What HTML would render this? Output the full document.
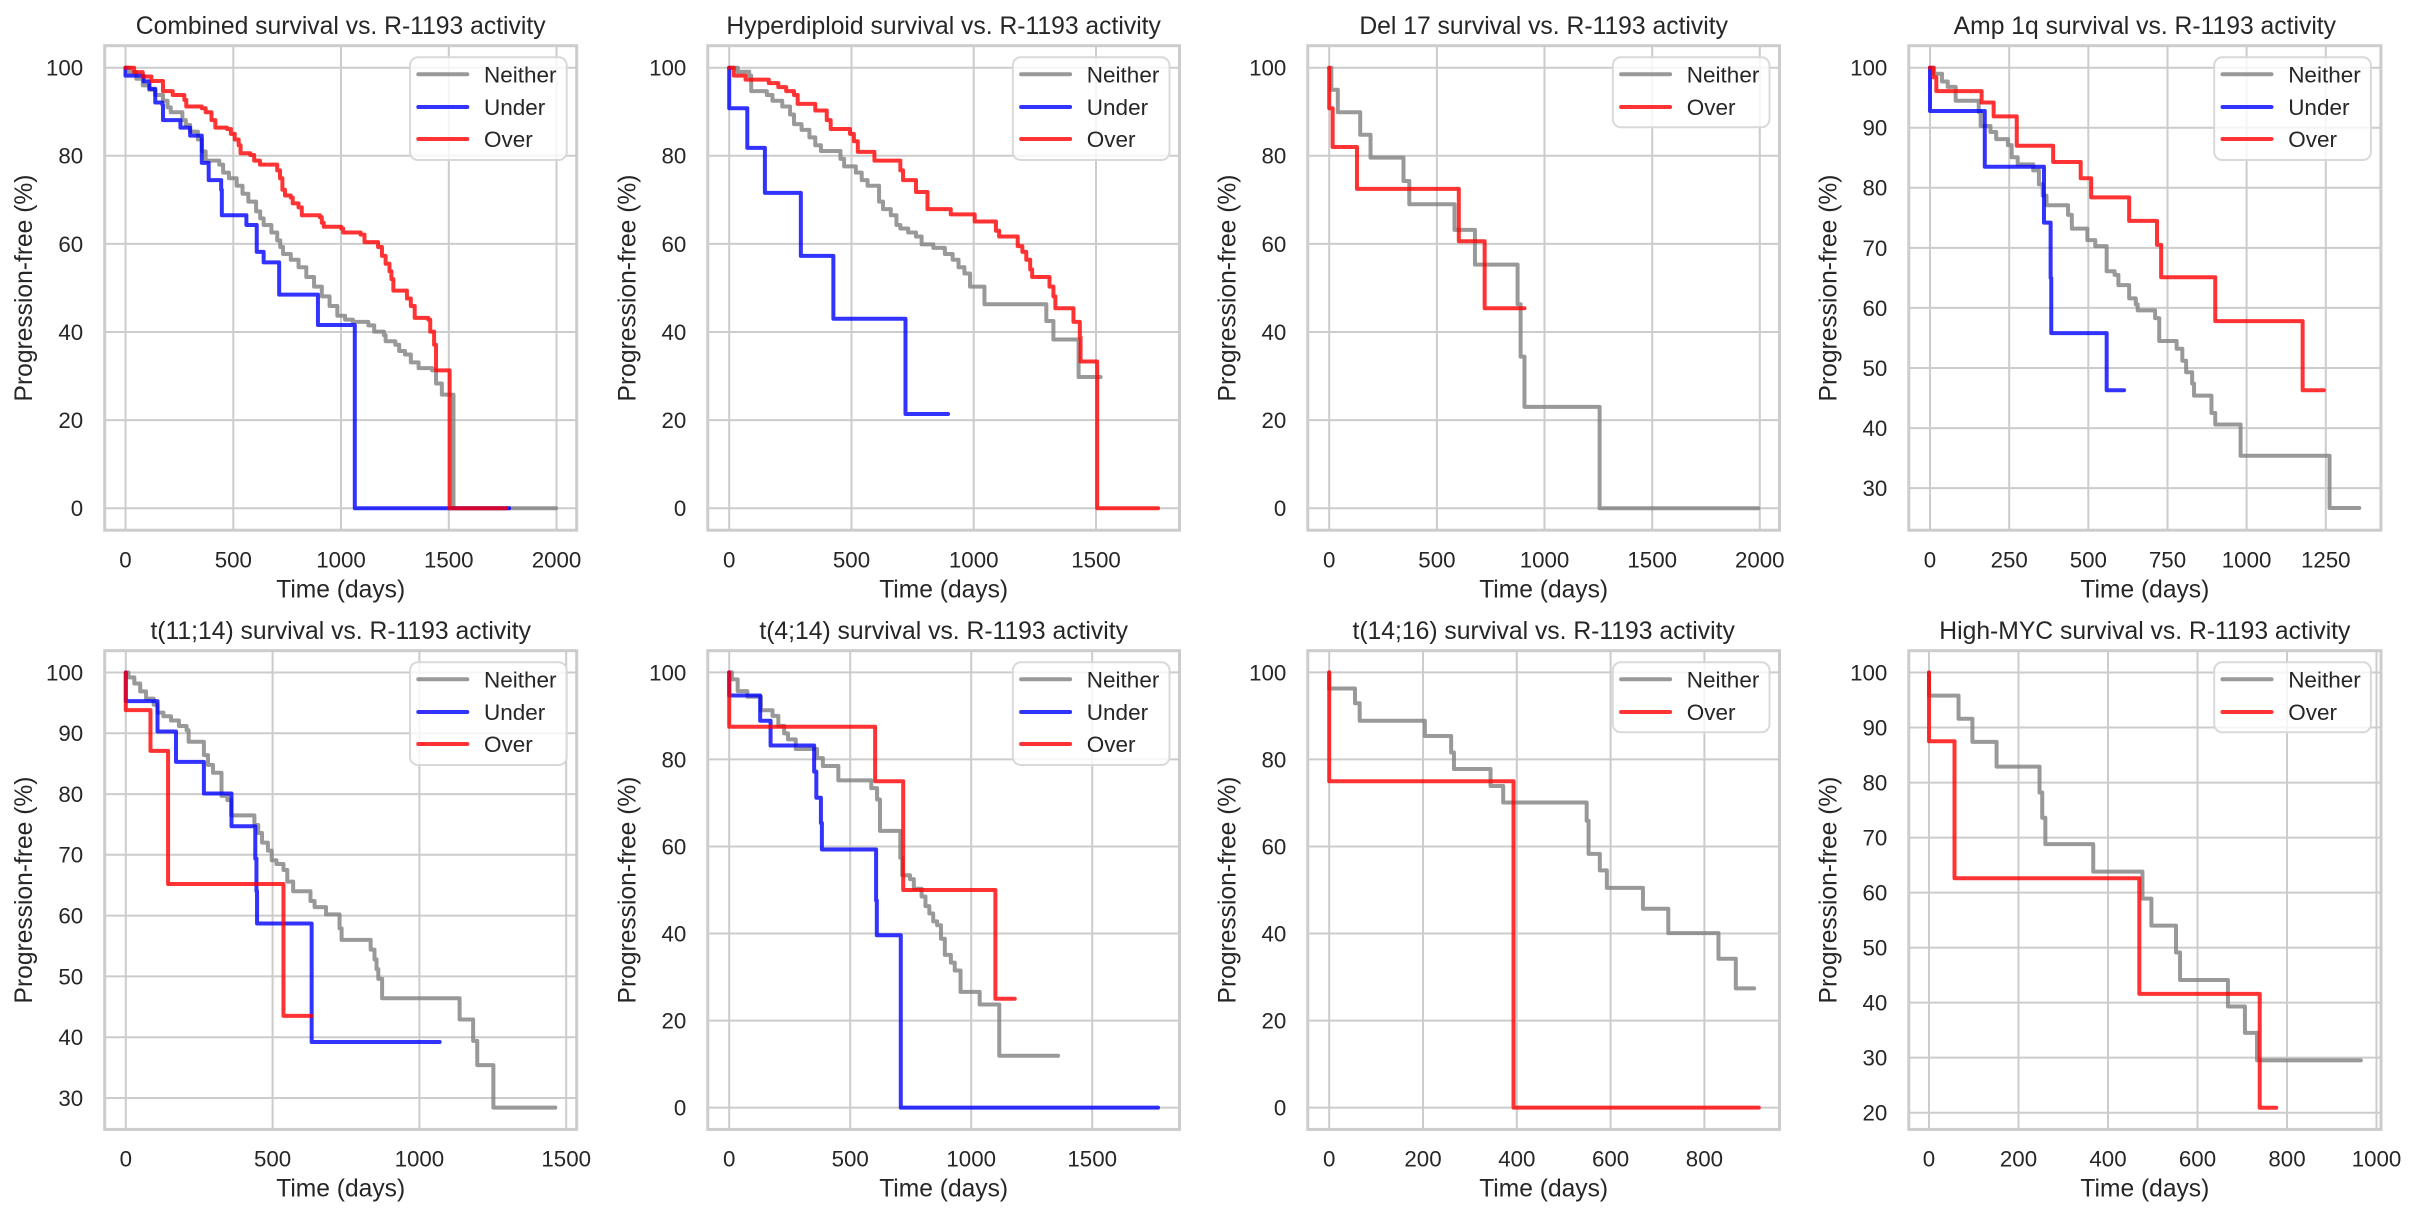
<!DOCTYPE html>
<html>
<head>
<meta charset="utf-8">
<style>
html,body{margin:0;padding:0;background:#fff;}
svg{display:block;font-family:"Liberation Sans",Arial,sans-serif;}
.grid line{stroke:#cccccc;stroke-width:2;}
.frame{fill:none;stroke:#cccccc;stroke-width:3;}
.tk{font-size:22.3px;fill:#262626;}
.yt{text-anchor:end;}
.xt{text-anchor:middle;}
.ttl{font-size:24.7px;fill:#262626;text-anchor:middle;}
.lab{font-size:24.6px;fill:#262626;text-anchor:middle;}
.lg{font-size:22.5px;fill:#262626;}
.c path{fill:none;stroke-width:4;stroke-opacity:0.8;stroke-linejoin:round;stroke-linecap:round;}
.n{stroke:#808080;}
.u{stroke:#0000ff;}
.o{stroke:#ff0000;}
.legbox{fill:#ffffff;fill-opacity:0.8;stroke:#d9d9d9;stroke-width:2;}
.ll{stroke-width:4;stroke-opacity:0.8;stroke-linecap:round;}
</style>
</head>
<body>
<svg width="2418" height="1218" viewBox="0 0 2418 1218" xmlns="http://www.w3.org/2000/svg">
<rect x="0" y="0" width="2418" height="1218" fill="#ffffff"/>

<!-- ============ PANEL 1 ============ -->
<g class="grid">
<line x1="125.5" y1="45.7" x2="125.5" y2="530.2"/><line x1="233.3" y1="45.7" x2="233.3" y2="530.2"/><line x1="341" y1="45.7" x2="341" y2="530.2"/><line x1="448.8" y1="45.7" x2="448.8" y2="530.2"/><line x1="556.5" y1="45.7" x2="556.5" y2="530.2"/>
<line x1="104.7" y1="508.2" x2="576.7" y2="508.2"/><line x1="104.7" y1="420.1" x2="576.7" y2="420.1"/><line x1="104.7" y1="332" x2="576.7" y2="332"/><line x1="104.7" y1="243.9" x2="576.7" y2="243.9"/><line x1="104.7" y1="155.8" x2="576.7" y2="155.8"/><line x1="104.7" y1="67.75" x2="576.7" y2="67.75"/>
</g>
<g class="c" transform="translate(125.5,508.2) scale(0.2155,-4.4045)">
<path class="n" vector-effect="non-scaling-stroke" d="M0 100 H20 V99 H50 V97.5 H80 V96 H110 V95 H138 V93.8 H174 V92.5 H195 V91 H210 V89.9 H264 V88.1 H280 V87 H300 V85.5 H336 V83.7 H354 V81 H372 V78.9 H435 V78 H453 V76.2 H480 V74.9 H516 V73.2 H543 V71.4 H570 V69.6 H606 V67.4 H625 V65.8 H641 V64.3 H677 V62.6 H704 V60.8 H718 V59.3 H731 V57.7 H767 V56.4 H803 V54.7 H839 V52.5 H875 V50.3 H911 V48.1 H947 V45.9 H983 V43.7 H1019 V42.8 H1055 V42.3 H1127 V41.5 H1154 V40.1 H1199 V39.3 H1207 V37.9 H1252 V37.1 H1270 V35.7 H1297 V34.9 H1324 V33.1 H1360 V31.8 H1423 V31.3 H1441 V28.3 H1468 V25.8 H1522 V0 H1998"/>
<path class="u" vector-effect="non-scaling-stroke" d="M0 100 V98.2 H84 V96.9 H111 V95.2 H138 V92.1 H171 V91.6 H174 V88.1 H255 V86.4 H300 V84.6 H354 V78.4 H386 V74.5 H444 V72.3 H447 V66.5 H561 V64.3 H609 V58.2 H641 V55.8 H713 V48.5 H893 V41.6 H1064 V0 H1780"/>
<path class="o" vector-effect="non-scaling-stroke" d="M0 100 H40 V99 H80 V98 H120 V97 H174 V94.7 H219 V93.8 H273 V92.7 H282 V91.2 H354 V90.8 H372 V89.9 H399 V88.1 H417 V86.4 H471 V86.1 H489 V85 H507 V83.7 H525 V82.4 H534 V80.6 H579 V80.2 H597 V78.9 H624 V78 H704 V76.7 H717 V74.9 H728 V72.3 H740 V71 H767 V70.5 H776 V69.2 H803 V68.3 H818 V66.5 H902 V66.1 H911 V64.8 H920 V63.9 H1001 V63.5 H1010 V62.6 H1091 V62.1 H1109 V60.4 H1172 V59.3 H1190 V57.3 H1207 V55.5 H1225 V53.8 H1234 V52 H1243 V49.4 H1306 V47.6 H1324 V45.9 H1342 V43.2 H1405 V42.8 H1414 V40.1 H1432 V37.1 H1441 V31.3 H1504 V0 H1765"/>
</g>
<rect class="frame" x="104.7" y="45.7" width="472" height="484.5"/>
<rect class="legbox" x="410" y="57.3" width="156.7" height="102.7" rx="8"/>
<line class="ll n" x1="418.3" y1="74.3" x2="467.3" y2="74.3"/><text class="lg" x="484" y="82.3">Neither</text>
<line class="ll u" x1="418.3" y1="107" x2="467.3" y2="107"/><text class="lg" x="484" y="115">Under</text>
<line class="ll o" x1="418.3" y1="139" x2="467.3" y2="139"/><text class="lg" x="484" y="147">Over</text>
<text class="ttl" x="340.7" y="34.1">Combined survival vs. R-1193 activity</text>
<text class="lab" x="340.7" y="597.7">Time (days)</text>
<text class="lab" transform="translate(32.2,288) rotate(-90)">Progression-free (%)</text>
<text class="tk xt" x="125.5" y="567.5">0</text><text class="tk xt" x="233.3" y="567.5">500</text><text class="tk xt" x="341" y="567.5">1000</text><text class="tk xt" x="448.8" y="567.5">1500</text><text class="tk xt" x="556.5" y="567.5">2000</text>
<text class="tk yt" x="83.2" y="516.1">0</text><text class="tk yt" x="83.2" y="428">20</text><text class="tk yt" x="83.2" y="339.9">40</text><text class="tk yt" x="83.2" y="251.8">60</text><text class="tk yt" x="83.2" y="163.7">80</text><text class="tk yt" x="83.2" y="75.6">100</text>

<!-- ============ PANEL 2 ============ -->
<g class="grid">
<line x1="729.2" y1="45.7" x2="729.2" y2="530.2"/><line x1="851.5" y1="45.7" x2="851.5" y2="530.2"/><line x1="973.7" y1="45.7" x2="973.7" y2="530.2"/><line x1="1096" y1="45.7" x2="1096" y2="530.2"/>
<line x1="707.8" y1="508.2" x2="1179.5" y2="508.2"/><line x1="707.8" y1="420.1" x2="1179.5" y2="420.1"/><line x1="707.8" y1="332" x2="1179.5" y2="332"/><line x1="707.8" y1="243.9" x2="1179.5" y2="243.9"/><line x1="707.8" y1="155.8" x2="1179.5" y2="155.8"/><line x1="707.8" y1="67.75" x2="1179.5" y2="67.75"/>
</g>
<g class="c" transform="translate(729.2,508.2) scale(0.2445,-4.4045)">
<path class="n" vector-effect="non-scaling-stroke" d="M0 100 H35 V99.1 H82 V98.2 H90 V94.7 H154 V93.8 H177 V92.5 H217 V91.2 H249 V89.4 H265 V87.2 H296 V85.9 H328 V84.2 H352 V82.4 H375 V81.1 H455 V79.3 H470 V77.6 H518 V76.2 H542 V74.5 H566 V73.2 H613 V69.6 H629 V67.9 H661 V66.5 H684 V64.3 H700 V63.5 H732 V62.6 H764 V61.7 H787 V59.9 H835 V59.1 H882 V57.7 H914 V56.4 H938 V54.7 H962 V53.3 H985 V50.3 H1044 V46.3 H1297 V42.5 H1326 V38.3 H1429 V29.8 H1519"/>
<path class="u" vector-effect="non-scaling-stroke" d="M0 100 V90.8 H74 V81.8 H146 V71.6 H293 V57.3 H426 V43 H721 V21.4 H895"/>
<path class="o" vector-effect="non-scaling-stroke" d="M0 100 H19 V98.2 H67 V97.3 H162 V96.5 H201 V95.6 H233 V94.7 H265 V93.8 H280 V91.8 H352 V90.3 H399 V88.1 H415 V86.1 H494 V85 H510 V83.3 H526 V80.9 H594 V78.9 H700 V76.7 H711 V74.5 H764 V71.8 H811 V67.9 H906 V66.7 H1004 V65.1 H1091 V63 H1104 V61.7 H1180 V59.5 H1199 V58.2 H1215 V56.4 H1231 V54.2 H1239 V52.5 H1310 V50.3 H1326 V48.1 H1334 V45.4 H1408 V42.3 H1434 V38.8 H1437 V33.3 H1505 V0 H1754"/>
</g>
<rect class="frame" x="707.8" y="45.7" width="471.7" height="484.5"/>
<rect class="legbox" x="1012.8" y="57.3" width="156.7" height="102.7" rx="8"/>
<line class="ll n" x1="1021.1" y1="74.3" x2="1070.1" y2="74.3"/><text class="lg" x="1086.8" y="82.3">Neither</text>
<line class="ll u" x1="1021.1" y1="107" x2="1070.1" y2="107"/><text class="lg" x="1086.8" y="115">Under</text>
<line class="ll o" x1="1021.1" y1="139" x2="1070.1" y2="139"/><text class="lg" x="1086.8" y="147">Over</text>
<text class="ttl" x="943.65" y="34.1">Hyperdiploid survival vs. R-1193 activity</text>
<text class="lab" x="943.65" y="597.7">Time (days)</text>
<text class="lab" transform="translate(635.3,288) rotate(-90)">Progression-free (%)</text>
<text class="tk xt" x="729.2" y="567.5">0</text><text class="tk xt" x="851.5" y="567.5">500</text><text class="tk xt" x="973.7" y="567.5">1000</text><text class="tk xt" x="1096" y="567.5">1500</text>
<text class="tk yt" x="686.3" y="516.1">0</text><text class="tk yt" x="686.3" y="428">20</text><text class="tk yt" x="686.3" y="339.9">40</text><text class="tk yt" x="686.3" y="251.8">60</text><text class="tk yt" x="686.3" y="163.7">80</text><text class="tk yt" x="686.3" y="75.6">100</text>

<!-- ============ PANEL 3 ============ -->
<g class="grid">
<line x1="1329.2" y1="45.7" x2="1329.2" y2="530.2"/><line x1="1436.9" y1="45.7" x2="1436.9" y2="530.2"/><line x1="1544.5" y1="45.7" x2="1544.5" y2="530.2"/><line x1="1652.2" y1="45.7" x2="1652.2" y2="530.2"/><line x1="1759.8" y1="45.7" x2="1759.8" y2="530.2"/>
<line x1="1307.8" y1="508.2" x2="1779.5" y2="508.2"/><line x1="1307.8" y1="420.1" x2="1779.5" y2="420.1"/><line x1="1307.8" y1="332" x2="1779.5" y2="332"/><line x1="1307.8" y1="243.9" x2="1779.5" y2="243.9"/><line x1="1307.8" y1="155.8" x2="1779.5" y2="155.8"/><line x1="1307.8" y1="67.75" x2="1779.5" y2="67.75"/>
</g>
<g class="c" transform="translate(1329.2,508.2) scale(0.2153,-4.4045)">
<path class="n" vector-effect="non-scaling-stroke" d="M0 100 H10 V95 H40 V89.9 H144 V84.8 H192 V79.6 H345 V74.3 H372 V69 H582 V63.2 H677 V55.3 H875 V46.3 H889 V34.4 H907 V23 H1256 V0 H1993"/>
<path class="o" vector-effect="non-scaling-stroke" d="M0 100 V90.8 H16 V82 H129 V72.5 H602 V60.6 H722 V45.4 H907"/>
</g>
<rect class="frame" x="1307.8" y="45.7" width="471.7" height="484.5"/>
<rect class="legbox" x="1612.8" y="57.3" width="156.7" height="70" rx="8"/>
<line class="ll n" x1="1621.1" y1="74.3" x2="1670.1" y2="74.3"/><text class="lg" x="1686.8" y="82.3">Neither</text>
<line class="ll o" x1="1621.1" y1="107" x2="1670.1" y2="107"/><text class="lg" x="1686.8" y="115">Over</text>
<text class="ttl" x="1543.65" y="34.1">Del 17 survival vs. R-1193 activity</text>
<text class="lab" x="1543.65" y="597.7">Time (days)</text>
<text class="lab" transform="translate(1235.3,288) rotate(-90)">Progression-free (%)</text>
<text class="tk xt" x="1329.2" y="567.5">0</text><text class="tk xt" x="1436.9" y="567.5">500</text><text class="tk xt" x="1544.5" y="567.5">1000</text><text class="tk xt" x="1652.2" y="567.5">1500</text><text class="tk xt" x="1759.8" y="567.5">2000</text>
<text class="tk yt" x="1286.3" y="516.1">0</text><text class="tk yt" x="1286.3" y="428">20</text><text class="tk yt" x="1286.3" y="339.9">40</text><text class="tk yt" x="1286.3" y="251.8">60</text><text class="tk yt" x="1286.3" y="163.7">80</text><text class="tk yt" x="1286.3" y="75.6">100</text>

<!-- ============ PANEL 4 ============ -->
<g class="grid">
<line x1="1930" y1="45.7" x2="1930" y2="530.2"/><line x1="2009.2" y1="45.7" x2="2009.2" y2="530.2"/><line x1="2088.3" y1="45.7" x2="2088.3" y2="530.2"/><line x1="2167.5" y1="45.7" x2="2167.5" y2="530.2"/><line x1="2246.6" y1="45.7" x2="2246.6" y2="530.2"/><line x1="2325.8" y1="45.7" x2="2325.8" y2="530.2"/>
<line x1="1908.8" y1="488.1" x2="2380.9" y2="488.1"/><line x1="1908.8" y1="428.1" x2="2380.9" y2="428.1"/><line x1="1908.8" y1="368" x2="2380.9" y2="368"/><line x1="1908.8" y1="307.9" x2="2380.9" y2="307.9"/><line x1="1908.8" y1="247.9" x2="2380.9" y2="247.9"/><line x1="1908.8" y1="187.8" x2="2380.9" y2="187.8"/><line x1="1908.8" y1="127.8" x2="2380.9" y2="127.8"/><line x1="1908.8" y1="67.7" x2="2380.9" y2="67.7"/>
</g>
<g class="c" transform="translate(1930,668.3) scale(0.3166,-6.006)">
<path class="n" vector-effect="non-scaling-stroke" d="M0 100 H13 V99 H38 V97.7 H56 V96.8 H81 V94.5 H154 V92.6 H160 V90.3 H191 V89.3 H209 V88.1 H246 V87.1 H258 V85.1 H277 V83.9 H326 V82.9 H344 V80.6 H356 V78.7 H368 V77.1 H436 V75.5 H448 V73.2 H497 V71.3 H522 V70.3 H558 V66.1 H583 V65.5 H595 V63.8 H629 V61.6 H650 V60.6 H656 V59.6 H711 V58.3 H724 V54.5 H779 V53.2 H797 V51.2 H809 V49.3 H828 V47.4 H834 V45.4 H889 V42.5 H901 V40.6 H981 V35.4 H1262 V26.7 H1356"/>
<path class="u" vector-effect="non-scaling-stroke" d="M0 100 V92.8 H173 V83.5 H360 V74.2 H381 V65 H383 V55.8 H558 V46.3 H613"/>
<path class="o" vector-effect="non-scaling-stroke" d="M0 100 H10 V98.4 H20 V96.1 H163 V94.2 H201 V91.9 H274 V87 H389 V84.3 H476 V81.6 H509 V78.4 H629 V74.5 H717 V70.5 H730 V65.1 H901 V57.8 H1177 V46.3 H1244"/>
</g>
<rect class="frame" x="1908.8" y="45.7" width="472.1" height="484.5"/>
<rect class="legbox" x="2214.2" y="57.3" width="156.7" height="102.7" rx="8"/>
<line class="ll n" x1="2222.5" y1="74.3" x2="2271.5" y2="74.3"/><text class="lg" x="2288.2" y="82.3">Neither</text>
<line class="ll u" x1="2222.5" y1="107" x2="2271.5" y2="107"/><text class="lg" x="2288.2" y="115">Under</text>
<line class="ll o" x1="2222.5" y1="139" x2="2271.5" y2="139"/><text class="lg" x="2288.2" y="147">Over</text>
<text class="ttl" x="2144.85" y="34.1">Amp 1q survival vs. R-1193 activity</text>
<text class="lab" x="2144.85" y="597.7">Time (days)</text>
<text class="lab" transform="translate(1836.3,288) rotate(-90)">Progression-free (%)</text>
<text class="tk xt" x="1930" y="567.5">0</text><text class="tk xt" x="2009.2" y="567.5">250</text><text class="tk xt" x="2088.3" y="567.5">500</text><text class="tk xt" x="2167.5" y="567.5">750</text><text class="tk xt" x="2246.6" y="567.5">1000</text><text class="tk xt" x="2325.8" y="567.5">1250</text>
<text class="tk yt" x="1887.3" y="496">30</text><text class="tk yt" x="1887.3" y="436">40</text><text class="tk yt" x="1887.3" y="375.9">50</text><text class="tk yt" x="1887.3" y="315.8">60</text><text class="tk yt" x="1887.3" y="255.8">70</text><text class="tk yt" x="1887.3" y="195.7">80</text><text class="tk yt" x="1887.3" y="135.7">90</text><text class="tk yt" x="1887.3" y="75.6">100</text>

<!-- ============ PANEL 5 ============ -->
<g class="grid">
<line x1="125.8" y1="650.7" x2="125.8" y2="1129.4"/><line x1="272.6" y1="650.7" x2="272.6" y2="1129.4"/><line x1="419.4" y1="650.7" x2="419.4" y2="1129.4"/><line x1="566.2" y1="650.7" x2="566.2" y2="1129.4"/>
<line x1="104.7" y1="1098" x2="576.7" y2="1098"/><line x1="104.7" y1="1037.2" x2="576.7" y2="1037.2"/><line x1="104.7" y1="976.4" x2="576.7" y2="976.4"/><line x1="104.7" y1="915.6" x2="576.7" y2="915.6"/><line x1="104.7" y1="854.8" x2="576.7" y2="854.8"/><line x1="104.7" y1="794.1" x2="576.7" y2="794.1"/><line x1="104.7" y1="733.3" x2="576.7" y2="733.3"/><line x1="104.7" y1="672.5" x2="576.7" y2="672.5"/>
</g>
<g class="c" transform="translate(125.8,1280.3) scale(0.2936,-6.078)">
<path class="n" vector-effect="non-scaling-stroke" d="M0 100 H9 V99.2 H29 V98.2 H49 V96.9 H69 V95.7 H95 V94.7 H108 V93.4 H128 V92.8 H154 V92.1 H181 V91.2 H207 V90.5 H214 V88.6 H266 V86.4 H280 V84.8 H297 V83.5 H326 V79.7 H346 V79 H359 V76.5 H438 V74.9 H451 V73.6 H464 V72 H484 V70.7 H497 V69.1 H513 V68.5 H537 V67.5 H550 V65.6 H570 V64 H629 V62.4 H643 V61.4 H682 V60.2 H728 V57.9 H735 V56 H834 V54.4 H847 V52.8 H854 V51.2 H860 V49.6 H873 V46.4 H1137 V42.9 H1183 V39.4 H1197 V35.4 H1252 V28.4 H1463"/>
<path class="u" vector-effect="non-scaling-stroke" d="M0 100 V95.3 H108 V90.3 H171 V85.3 H266 V80.1 H360 V74.7 H441 V69.4 H445 V64 H447 V58.7 H633 V39.2 H1069"/>
<path class="o" vector-effect="non-scaling-stroke" d="M0 100 V93.8 H84 V87.1 H144 V65.2 H537 V43.5 H633"/>
</g>
<rect class="frame" x="104.7" y="650.7" width="472" height="478.7"/>
<rect class="legbox" x="410" y="662.3" width="156.7" height="102.7" rx="8"/>
<line class="ll n" x1="418.3" y1="679.3" x2="467.3" y2="679.3"/><text class="lg" x="484" y="687.3">Neither</text>
<line class="ll u" x1="418.3" y1="712" x2="467.3" y2="712"/><text class="lg" x="484" y="720">Under</text>
<line class="ll o" x1="418.3" y1="744" x2="467.3" y2="744"/><text class="lg" x="484" y="752">Over</text>
<text class="ttl" x="340.7" y="639.1">t(11;14) survival vs. R-1193 activity</text>
<text class="lab" x="340.7" y="1196.5">Time (days)</text>
<text class="lab" transform="translate(32.2,890) rotate(-90)">Progression-free (%)</text>
<text class="tk xt" x="125.8" y="1166.6">0</text><text class="tk xt" x="272.6" y="1166.6">500</text><text class="tk xt" x="419.4" y="1166.6">1000</text><text class="tk xt" x="566.2" y="1166.6">1500</text>
<text class="tk yt" x="83.2" y="1105.9">30</text><text class="tk yt" x="83.2" y="1045.1">40</text><text class="tk yt" x="83.2" y="984.3">50</text><text class="tk yt" x="83.2" y="923.5">60</text><text class="tk yt" x="83.2" y="862.7">70</text><text class="tk yt" x="83.2" y="802">80</text><text class="tk yt" x="83.2" y="741.2">90</text><text class="tk yt" x="83.2" y="680.4">100</text>

<!-- ============ PANEL 6 ============ -->
<g class="grid">
<line x1="729.2" y1="650.7" x2="729.2" y2="1129.4"/><line x1="850.2" y1="650.7" x2="850.2" y2="1129.4"/><line x1="971.2" y1="650.7" x2="971.2" y2="1129.4"/><line x1="1092.2" y1="650.7" x2="1092.2" y2="1129.4"/>
<line x1="707.8" y1="1107.6" x2="1179.5" y2="1107.6"/><line x1="707.8" y1="1020.6" x2="1179.5" y2="1020.6"/><line x1="707.8" y1="933.5" x2="1179.5" y2="933.5"/><line x1="707.8" y1="846.5" x2="1179.5" y2="846.5"/><line x1="707.8" y1="759.4" x2="1179.5" y2="759.4"/><line x1="707.8" y1="672.4" x2="1179.5" y2="672.4"/>
</g>
<g class="c" transform="translate(729.2,1107.6) scale(0.2420,-4.352)">
<path class="n" vector-effect="non-scaling-stroke" d="M0 100 H11 V98.4 H35 V95.7 H75 V94.4 H131 V91.3 H179 V90 H203 V87.7 H227 V86 H243 V84.6 H275 V82.4 H363 V80.3 H387 V78.5 H451 V75.2 H587 V73.4 H611 V70.8 H623 V63.6 H707 V57.4 H715 V53.4 H747 V52.5 H763 V50.3 H795 V48.5 H811 V46.3 H827 V44.6 H843 V42.8 H859 V41.9 H875 V38.8 H891 V35.1 H916 V33.3 H932 V31.5 H956 V26.6 H1035 V23.7 H1116 V11.9 H1359"/>
<path class="u" vector-effect="non-scaling-stroke" d="M0 100 V94.7 H128 V88.9 H171 V83.2 H351 V77.2 H360 V71.2 H379 V65.4 H383 V59.3 H607 V47.6 H610 V39.6 H709 V0 H1772"/>
<path class="o" vector-effect="non-scaling-stroke" d="M0 100 V87.5 H603 V75 H719 V50 H1100 V25 H1180"/>
</g>
<rect class="frame" x="707.8" y="650.7" width="471.7" height="478.7"/>
<rect class="legbox" x="1012.8" y="662.3" width="156.7" height="102.7" rx="8"/>
<line class="ll n" x1="1021.1" y1="679.3" x2="1070.1" y2="679.3"/><text class="lg" x="1086.8" y="687.3">Neither</text>
<line class="ll u" x1="1021.1" y1="712" x2="1070.1" y2="712"/><text class="lg" x="1086.8" y="720">Under</text>
<line class="ll o" x1="1021.1" y1="744" x2="1070.1" y2="744"/><text class="lg" x="1086.8" y="752">Over</text>
<text class="ttl" x="943.65" y="639.1">t(4;14) survival vs. R-1193 activity</text>
<text class="lab" x="943.65" y="1196.5">Time (days)</text>
<text class="lab" transform="translate(635.3,890) rotate(-90)">Progression-free (%)</text>
<text class="tk xt" x="729.2" y="1166.6">0</text><text class="tk xt" x="850.2" y="1166.6">500</text><text class="tk xt" x="971.2" y="1166.6">1000</text><text class="tk xt" x="1092.2" y="1166.6">1500</text>
<text class="tk yt" x="686.3" y="1115.5">0</text><text class="tk yt" x="686.3" y="1028.5">20</text><text class="tk yt" x="686.3" y="941.4">40</text><text class="tk yt" x="686.3" y="854.4">60</text><text class="tk yt" x="686.3" y="767.3">80</text><text class="tk yt" x="686.3" y="680.3">100</text>

<!-- ============ PANEL 7 ============ -->
<g class="grid">
<line x1="1329.2" y1="650.7" x2="1329.2" y2="1129.4"/><line x1="1423" y1="650.7" x2="1423" y2="1129.4"/><line x1="1516.8" y1="650.7" x2="1516.8" y2="1129.4"/><line x1="1610.6" y1="650.7" x2="1610.6" y2="1129.4"/><line x1="1704.4" y1="650.7" x2="1704.4" y2="1129.4"/>
<line x1="1307.8" y1="1107.6" x2="1779.5" y2="1107.6"/><line x1="1307.8" y1="1020.6" x2="1779.5" y2="1020.6"/><line x1="1307.8" y1="933.5" x2="1779.5" y2="933.5"/><line x1="1307.8" y1="846.5" x2="1779.5" y2="846.5"/><line x1="1307.8" y1="759.4" x2="1779.5" y2="759.4"/><line x1="1307.8" y1="672.4" x2="1779.5" y2="672.4"/>
</g>
<g class="c" transform="translate(1329.2,1107.6) scale(0.4690,-4.352)">
<path class="n" vector-effect="non-scaling-stroke" d="M0 100 V96.3 H55 V92.9 H65 V88.9 H204 V85.4 H260 V81.6 H266 V77.8 H344 V73.9 H371 V70.1 H549 V65.9 H553 V58.3 H577 V54.5 H592 V50.5 H669 V45.7 H723 V40.1 H830 V34.2 H867 V27.4 H906"/>
<path class="o" vector-effect="non-scaling-stroke" d="M0 100 V75 H393 V0 H916"/>
</g>
<rect class="frame" x="1307.8" y="650.7" width="471.7" height="478.7"/>
<rect class="legbox" x="1612.8" y="662.3" width="156.7" height="70" rx="8"/>
<line class="ll n" x1="1621.1" y1="679.3" x2="1670.1" y2="679.3"/><text class="lg" x="1686.8" y="687.3">Neither</text>
<line class="ll o" x1="1621.1" y1="712" x2="1670.1" y2="712"/><text class="lg" x="1686.8" y="720">Over</text>
<text class="ttl" x="1543.65" y="639.1">t(14;16) survival vs. R-1193 activity</text>
<text class="lab" x="1543.65" y="1196.5">Time (days)</text>
<text class="lab" transform="translate(1235.3,890) rotate(-90)">Progression-free (%)</text>
<text class="tk xt" x="1329.2" y="1166.6">0</text><text class="tk xt" x="1423" y="1166.6">200</text><text class="tk xt" x="1516.8" y="1166.6">400</text><text class="tk xt" x="1610.6" y="1166.6">600</text><text class="tk xt" x="1704.4" y="1166.6">800</text>
<text class="tk yt" x="1286.3" y="1115.5">0</text><text class="tk yt" x="1286.3" y="1028.5">20</text><text class="tk yt" x="1286.3" y="941.4">40</text><text class="tk yt" x="1286.3" y="854.4">60</text><text class="tk yt" x="1286.3" y="767.3">80</text><text class="tk yt" x="1286.3" y="680.3">100</text>

<!-- ============ PANEL 8 ============ -->
<g class="grid">
<line x1="1929" y1="650.7" x2="1929" y2="1129.4"/><line x1="2018.5" y1="650.7" x2="2018.5" y2="1129.4"/><line x1="2108" y1="650.7" x2="2108" y2="1129.4"/><line x1="2197.5" y1="650.7" x2="2197.5" y2="1129.4"/><line x1="2287" y1="650.7" x2="2287" y2="1129.4"/><line x1="2376.5" y1="650.7" x2="2376.5" y2="1129.4"/>
<line x1="1908.8" y1="1112.7" x2="2381" y2="1112.7"/><line x1="1908.8" y1="1057.6" x2="2381" y2="1057.6"/><line x1="1908.8" y1="1002.6" x2="2381" y2="1002.6"/><line x1="1908.8" y1="947.6" x2="2381" y2="947.6"/><line x1="1908.8" y1="892.6" x2="2381" y2="892.6"/><line x1="1908.8" y1="837.6" x2="2381" y2="837.6"/><line x1="1908.8" y1="782.6" x2="2381" y2="782.6"/><line x1="1908.8" y1="727.5" x2="2381" y2="727.5"/><line x1="1908.8" y1="672.5" x2="2381" y2="672.5"/>
</g>
<g class="c" transform="translate(1929,1222.7) scale(0.4475,-5.502)">
<path class="n" vector-effect="non-scaling-stroke" d="M0 100 V95.8 H66 V91.6 H97 V87.4 H151 V82.9 H247 V78.2 H253 V73.6 H260 V68.8 H367 V63.8 H477 V58.9 H497 V54 H552 V49.1 H561 V44.1 H668 V39.3 H706 V34.5 H733 V29.5 H965"/>
<path class="o" vector-effect="non-scaling-stroke" d="M0 100 V87.5 H57 V62.6 H470 V41.6 H739 V20.9 H776"/>
</g>
<rect class="frame" x="1908.8" y="650.7" width="472.2" height="478.7"/>
<rect class="legbox" x="2214.2" y="662.3" width="156.7" height="70" rx="8"/>
<line class="ll n" x1="2222.5" y1="679.3" x2="2271.5" y2="679.3"/><text class="lg" x="2288.2" y="687.3">Neither</text>
<line class="ll o" x1="2222.5" y1="712" x2="2271.5" y2="712"/><text class="lg" x="2288.2" y="720">Over</text>
<text class="ttl" x="2144.85" y="639.1">High-MYC survival vs. R-1193 activity</text>
<text class="lab" x="2144.85" y="1196.5">Time (days)</text>
<text class="lab" transform="translate(1836.3,890) rotate(-90)">Progression-free (%)</text>
<text class="tk xt" x="1929" y="1166.6">0</text><text class="tk xt" x="2018.5" y="1166.6">200</text><text class="tk xt" x="2108" y="1166.6">400</text><text class="tk xt" x="2197.5" y="1166.6">600</text><text class="tk xt" x="2287" y="1166.6">800</text><text class="tk xt" x="2376.5" y="1166.6">1000</text>
<text class="tk yt" x="1887.3" y="1120.6">20</text><text class="tk yt" x="1887.3" y="1065.5">30</text><text class="tk yt" x="1887.3" y="1010.5">40</text><text class="tk yt" x="1887.3" y="955.5">50</text><text class="tk yt" x="1887.3" y="900.5">60</text><text class="tk yt" x="1887.3" y="845.5">70</text><text class="tk yt" x="1887.3" y="790.5">80</text><text class="tk yt" x="1887.3" y="735.4">90</text><text class="tk yt" x="1887.3" y="680.4">100</text>
</svg>
</body>
</html>
